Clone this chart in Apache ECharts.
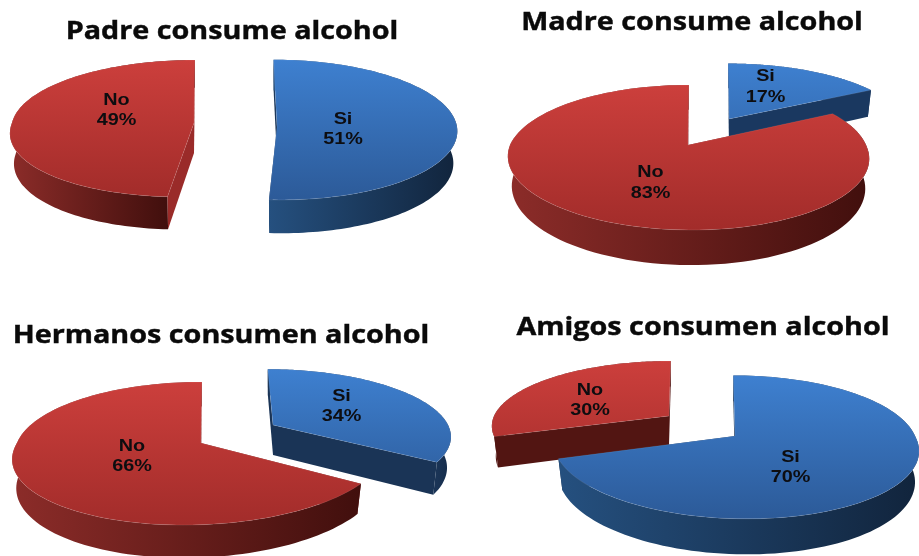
<!DOCTYPE html>
<html><head><meta charset="utf-8">
<style>html,body{margin:0;padding:0;background:#fff}#c{width:919px;height:556px;filter:blur(0.4px)}</style>
<script src="https://cdn.jsdelivr.net/npm/echarts@6/dist/echarts.min.js"></script>
</head><body><div id="c"></div>
<script>
const categories = ['Si', 'No'];
const titles = ['Padre consume alcohol', 'Madre consume alcohol', 'Hermanos consumen alcohol', 'Amigos consumen alcohol'];
const padre = [51, 49];
const madre = [17, 83];
const hermanos = [34, 66];
const amigos = [70, 30];
const tables = [padre, madre, hermanos, amigos];

// Layout and style only: projected-disc parameters for each slice, in draw order.
const titleLayout = [[232, 32], [692, 23], [221, 336], [703, 328]];
const layout = [
  { order: [0, 1], s: [
    { ax: 277, ay: 127, p: .04, A: 180, B: 70, D: 32, skB: -3.6, skF: -3.6, lx: 343, ly: 129.5, cut: '#1a3659' },
    { ax: 194, ay: 123, p: .08, A: 182, B: 68, D: 30, skB: 1, skF: 13, lx: 116.5, ly: 110.5, cut: '#9a2b29' } ] },
  { order: [0, 1], s: [
    { ax: 729, ay: 119, p: .172, A: 176, B: 65, D: 29, skB: -1, skF: 0, lx: 765.5, ly: 87, cut: '#1a3860', wall: ['#1a3860', '#1a3860'] },
    { ax: 688, ay: 145, p: .172, A: 178, B: 70.4, D: 29, skB: 1, skF: -3, lx: 650.5, ly: 183, cut: '#7a2120' } ] },
  { order: [0, 1], s: [
    { ax: 273, ay: 425, p: .147, A: 175, B: 64, D: 30, skB: -6, skF: -6, lx: 341.5, ly: 406.5, cut: '#1a3456', wall: ['#1a3456', '#152c4a'] },
    { ax: 201, ay: 443, p: .147, A: 184, B: 70, D: 28, skB: 1, skF: 15, lx: 132, ly: 456.5, cut: '#7a2120' } ] },
  { order: [1, 0], s: [
    { ax: 669, ay: 416, p: .155, A: 175, B: 63.5, D: 29.5, skB: 2, skF: 0, lx: 590, ly: 400.5, cut: '#521512', wall: ['#521512', '#521512'] },
    { ax: 735, ay: 436, p: .155, A: 180, B: 70, D: 30, skB: -2, skF: -10, lx: 790.5, ly: 467.5, cut: '#1a3456' } ] }
];
const palette = {
  Si: { top: ['#3e80d0', '#2c5a98'], wall: ['#25507f', '#11243c'] },
  No: { top: ['#cc3f3c', '#a22c2a'], wall: ['#8c2c29', '#410f0d'] }
};
const labelFont = 'bold 16.5px "Liberation Sans"';
const titleFont = 'bold 25px "Open Sans"';
const labelStretch = 1.2, titleStretch = 1.15;
const STEPS = 120;

function project(g, theta, h) {
  const u = Math.sin(theta), v = Math.cos(theta), den = 1 + g.p * v;
  const sk = v >= 0 ? g.skB : g.skF;
  const shrink = 1 - 0.022 * h;
  return [g.ax + (g.A * u + sk * v) * shrink / den, g.ay + (-g.B * v + g.D * h) / den];
}
function arc(g, a0, a1, h) {
  const pts = [];
  for (let i = 0; i <= STEPS; i++) pts.push(project(g, a0 + (a1 - a0) * i / STEPS, h));
  return pts;
}
function grad(x0, y0, x1, y1, c) {
  return { type: 'linear', x: x0, y: y0, x2: x1, y2: y1, global: true,
    colorStops: [{ offset: 0, color: c[0] }, { offset: 1, color: c[1] }] };
}
function poly(points, fill, extra) {
  return { type: 'polygon', shape: { points }, style: Object.assign({ fill }, extra || {}) };
}
function sliceGroup(g, name, a0, a1) {
  const col = palette[name];
  const topArc = arc(g, a0, a1, 0), botArc = arc(g, a0, a1, 1);
  const apexT = [g.ax, g.ay], apexB = [g.ax, g.ay + g.D];
  let front = [];
  for (let i = 0; i <= STEPS; i++) {
    if (Math.cos(a0 + (a1 - a0) * i / STEPS) < 0) front.push(topArc[i][0]);
  }
  if (front.length < 2) front = topArc.map(q => q[0]);
  const xs0 = Math.min.apply(null, front), xs1 = Math.max.apply(null, front);
  const top = g.ay - g.B / (1 + g.p), bot = g.ay + g.B / (1 - g.p);
  const wall = topArc.concat(botArc.slice().reverse());
  const startCut = poly([apexT, topArc[0], botArc[0], apexB], g.cut);
  const endCut = poly([apexT, topArc[STEPS], botArc[STEPS], apexB], g.cut);
  const startFaces = Math.sin(a0) < -1e-6, endFaces = Math.sin(a1) > 1e-6;
  const under = [], over = [];
  (startFaces ? over : under).push(startCut);
  (endFaces ? over : under).push(endCut);
  return { type: 'group', children: under.concat(
    [poly(wall, grad(xs0, 0, xs1, 0, g.wall || col.wall))], over,
    [poly([apexT].concat(topArc), grad(0, top, 0, bot, col.top),
      { stroke: 'rgba(255,255,255,0.12)', lineWidth: 0.8 })]) };
}

const series = layout.map((cfg, k) => {
  const vals = tables[k];
  const total = vals.reduce((a, b) => a + b, 0);
  let acc = 0;
  const spans = vals.map(v => { const r = [acc / total, (acc + v) / total]; acc += v; return r; });
  const data = cfg.order.map(i => ({ name: categories[i], value: vals[i] }));
  return {
    type: 'custom', coordinateSystem: 'none', silent: true, clip: false, data,
    renderItem(params) {
      const i = cfg.order[params.dataIndex];
      const g = cfg.s[params.dataIndex];
      return sliceGroup(g, categories[i], spans[i][0] * 2 * Math.PI, spans[i][1] * 2 * Math.PI);
    }
  };
});
// Labels sit above all slices of all pies.
layout.forEach((cfg, k) => {
  const vals = tables[k];
  const data = cfg.order.map(i => ({ name: categories[i], value: vals[i] }));
  series.push({
    type: 'custom', coordinateSystem: 'none', silent: true, clip: false, data, z: 5,
    renderItem(params) {
      const i = cfg.order[params.dataIndex];
      const g = cfg.s[params.dataIndex];
      return { type: 'text', x: g.lx, y: g.ly, scaleX: labelStretch, style: { text: categories[i] + '\n' + vals[i] + '%', x: 0, y: 0,
        align: 'center', verticalAlign: 'middle', font: labelFont, lineHeight: 20.5, fill: '#0d0d10' } };
    }
  });
});

const chart = echarts.init(document.getElementById('c'), null, { renderer: 'canvas' });
chart.setOption({
  animation: false, backgroundColor: '#fff',
  graphic: titles.map((t, i) => ({
    type: 'text', x: titleLayout[i][0], y: titleLayout[i][1], scaleX: titleStretch, z: 10,
    style: { text: t, x: 0, y: 0, align: 'center', verticalAlign: 'middle', font: titleFont, fill: '#0a0a0a', stroke: '#0a0a0a', lineWidth: 0.4 }
  })),
  series
});
</script></body></html>
